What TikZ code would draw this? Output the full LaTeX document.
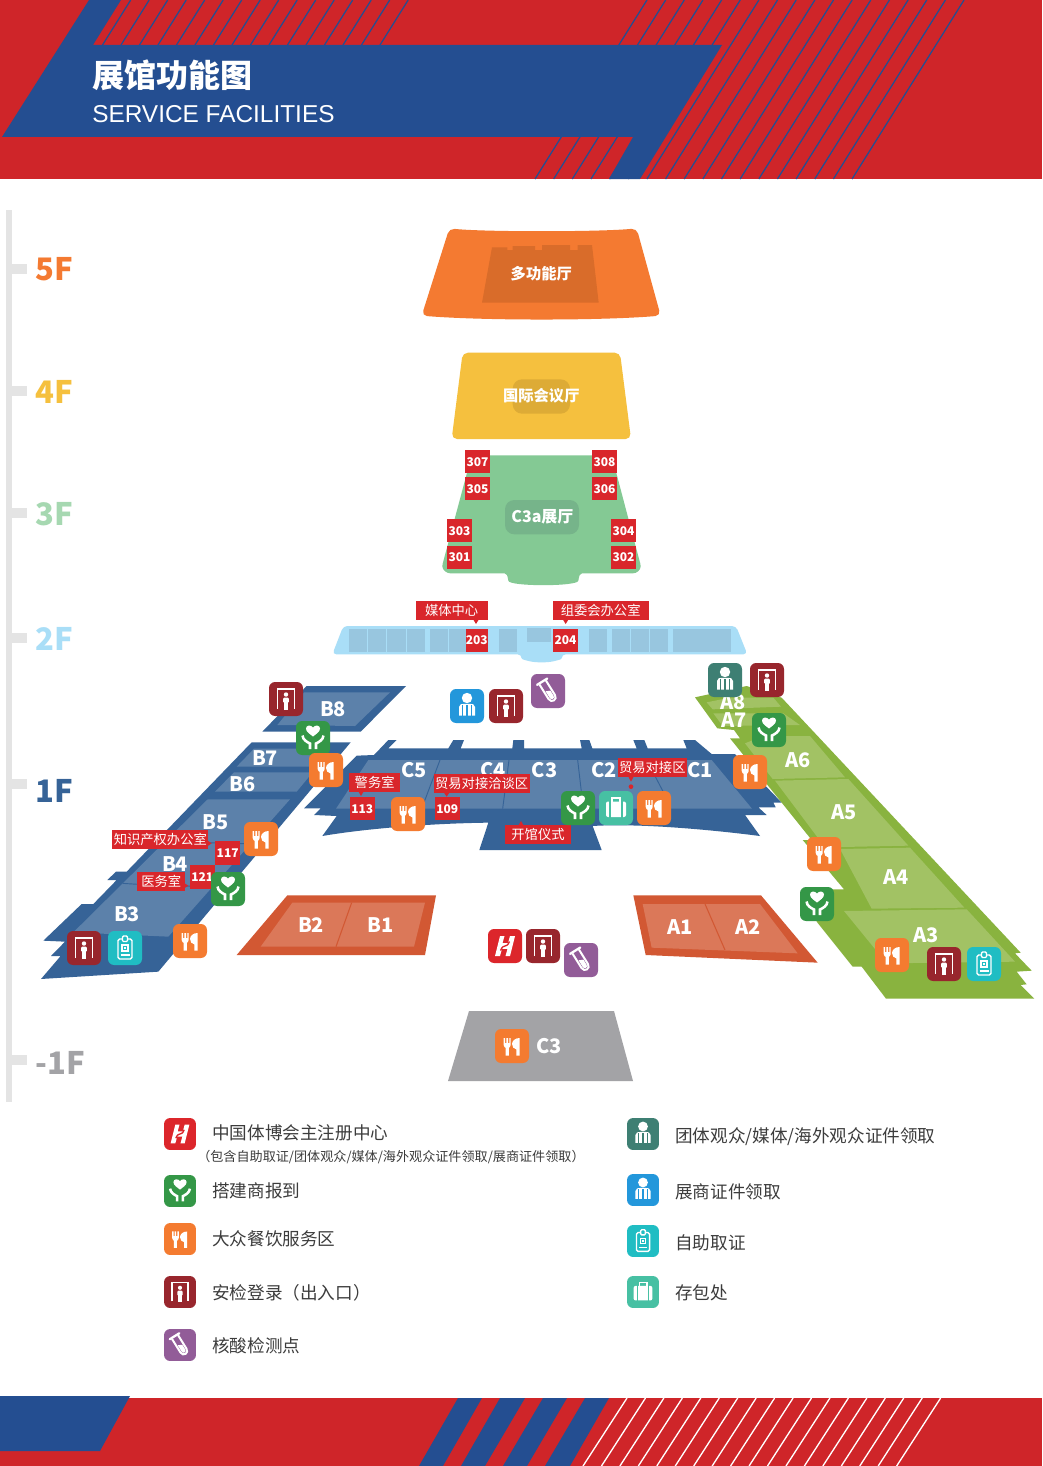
\documentclass[tikz,border=0pt]{standalone}
\usepackage{fontspec}
\setmainfont{Noto Sans CJK SC}
\newfontfamily\arialf{Liberation Sans}
\newcommand\fpx[1]{\fontsize{\fpeval{#1*0.75}}{\fpeval{#1*0.9}}\selectfont}
\definecolor{hred}{HTML}{CF2529}
\definecolor{hblue}{HTML}{244E91}
\definecolor{tagred}{HTML}{D9262B}
\definecolor{fivef}{HTML}{F47A31}
\definecolor{fivein}{HTML}{D96C2A}
\definecolor{fourf}{HTML}{F5C03E}
\definecolor{fourin}{HTML}{DDAB36}
\definecolor{threef}{HTML}{84C994}
\definecolor{threein}{HTML}{76B48A}
\definecolor{threet}{HTML}{A6D8B1}
\definecolor{twof}{HTML}{A9DEF7}
\definecolor{twoin}{HTML}{98C6DF}
\definecolor{onef}{HTML}{366397}
\definecolor{onein}{HTML}{5C81AA}
\definecolor{bof}{HTML}{D25833}
\definecolor{boin}{HTML}{DB7859}
\definecolor{agr}{HTML}{89B33F}
\definecolor{agrin}{HTML}{A2C264}
\definecolor{greyf}{HTML}{A3A3A6}
\definecolor{axisg}{HTML}{E4E4E4}
\definecolor{legt}{HTML}{3C3C3C}
\definecolor{cdoor}{HTML}{98262D}
\definecolor{cfood}{HTML}{F47B30}
\definecolor{cheart}{HTML}{349747}
\definecolor{cgroup}{HTML}{3E7F73}
\definecolor{cblue}{HTML}{2397DB}
\definecolor{ctube}{HTML}{925C98}
\definecolor{cbadge}{HTML}{20BDC3}
\definecolor{cbag}{HTML}{47C0A3}
\definecolor{clogo}{HTML}{DC262B}
\tikzset{
  zonetxt/.style={font=\bfseries\fpx{20},text=white,inner sep=0pt,xshift=0.8pt,yshift=-0.4pt},
  floortxt/.style={font=\bfseries\fpx{31},inner sep=0pt,anchor=west,yshift=-0.9pt},
  hall/.style={font=\bfseries\fpx{15.3},text=white,inner sep=0pt},
  roomno/.style={fill=tagred,text=white,font=\bfseries\fpx{12},inner sep=0pt,minimum width=18.7pt,minimum height=17.5pt},
  tagbox/.style={fill=tagred,text=white,font=\fpx{13.3},inner sep=0pt,minimum height=14.3pt},
  legmain/.style={font=\fpx{17.6},text=legt,inner sep=0pt,anchor=west,yshift=-0.75pt},
  legsub/.style={font=\fpx{13.1},text=legt,inner sep=0pt,anchor=west,yshift=-0.75pt},
  tickbar/.style={fill=axisg,draw=none},
}
\newcommand\base[1]{\fill[rounded corners=4.6pt,#1] (-17,-17) rectangle (17,17);}
\newcommand\iconfood{\base{cfood}
  \fill[white] (-8.3,-8) -- (-6.9,-8) -- (-6.9,-3) -- (-5.6,-3) -- (-5.6,-8) -- (-4.0,-8) -- (-4.0,-3) -- (-2.7,-3) -- (-2.7,-8) -- (-1.3,-8) -- (-1.3,-1) .. controls (-1.3,1) and (-3,1.5) .. (-3.2,1.8) -- (-3.2,9.5) -- (-6.4,9.5) -- (-6.4,1.8) .. controls (-6.8,1.5) and (-8.3,1) .. (-8.3,-1) -- cycle;
  \fill[white] (7.6,-8) .. controls (3,-8) and (0,-5) .. (0,-2) .. controls (0,1) and (2,3) .. (4.4,3.4) -- (4.4,9.5) -- (7.6,9.5) -- cycle;}
\newcommand\iconheart{\base{cheart}
  \fill[white] (0,-1.5) .. controls (-3,-4) and (-7,-6) .. (-7,-9.5) .. controls (-7,-13) and (-2,-13.5) .. (0,-10.5) .. controls (2,-13.5) and (7,-13) .. (7,-9.5) .. controls (7,-6) and (3,-4) .. (0,-1.5) -- cycle;
  \draw[white,line width=1.9pt] (-10.5,-2.5) .. controls (-10,2) and (-6,4) .. (-3,5.5) -- (-3,11);
  \draw[white,line width=1.9pt] (10.5,-2.5) .. controls (10,2) and (6,4) .. (3,5.5) -- (3,11);}
\newcommand\icondoor{\base{cdoor}
  \draw[white,line width=1.1pt] (-8.5,10) -- (-8.5,-10) -- (8.5,-10) -- (8.5,10);
  \fill[white] (0,-4.5) circle (2.2);
  \fill[white,rounded corners=0.8pt] (-2.8,-1.5) rectangle (2.8,4);
  \fill[white] (-1.7,3) rectangle (1.7,10.5);}
\newcommand\iconbadge{\base{cbadge}
  \draw[white,line width=1pt,rounded corners=1.2pt] (-7,-9) rectangle (7,11);
  \draw[white,line width=1pt,fill=cbadge,rounded corners=0.8pt] (-2.5,-12) rectangle (2.5,-6.5);
  \draw[white,line width=0.9pt] (-3,-3) rectangle (3,3);
  \fill[white] (-1.2,-1.2) rectangle (1.2,1.2);
  \draw[white,line width=0.9pt] (-4.5,7) -- (4.5,7);}
\newcommand\iconperson[1]{\base{#1}
  \fill[white] (0,-8) circle (5.2);
  \fill[white] (-8,9.5) -- (-8,1) .. controls (-8,-2) and (-5,-2.2) .. (-3,-2.2) -- (3,-2.2) .. controls (5,-2.2) and (8,-2) .. (8,1) -- (8,9.5) -- cycle;
  \draw[#1,line width=0.6pt] (-4.8,-1) -- (-4.8,10) (4.8,-1) -- (4.8,10);
  \draw[#1,line width=1pt] (0,-1) -- (0,10);}
\newcommand\iconbag{\base{cbag}
  \draw[white,line width=1.1pt] (-4,-5) -- (-4,-10) -- (4,-10) -- (4,-5);
  \fill[white,rounded corners=1.5pt] (-10,-6.5) rectangle (10,9);
  \draw[cbag,line width=0.8pt] (-6,-7) -- (-6,9.5) (6,-7) -- (6,9.5);}
\newcommand\icontube{\base{ctube}
  \begin{scope}[rotate=32,shift={(0,0)}]
  \draw[white,line width=1.7pt,line cap=round] (-6,-11) -- (6,-11);
  \draw[white,line width=1.5pt] (-3.8,-10) -- (-3.8,7) .. controls (-3.8,12.5) and (3.8,12.5) .. (3.8,7) -- (3.8,-10);
  \fill[white] (-2.2,-1) -- (2.2,1) -- (2.2,7) .. controls (2.2,10) and (-2.2,10) .. (-2.2,7) -- cycle;
  \end{scope}}
\newcommand\iconlogo{\base{clogo}
  \fill[white] (-5,-10) -- (-0.5,-10) -- (-2.5,-2.8) -- (3,-2.8) -- (5,-10) -- (10,-10) -- (5,10) -- (0.5,10) -- (2.5,2.8) -- (-3,2.8) -- (-5,10) -- (-10,10) -- cycle;
  \draw[clogo,line width=1pt] (-4.5,4.5) .. controls (-1,-3.5) and (1,3.5) .. (4.5,-4.5);}
\newcommand\icon[4][1]{\begin{scope}[shift={(#2,#3)},scale=#1]#4\end{scope}}
\begin{document}
\begin{tikzpicture}[x=0.75pt,y=-0.75pt]
\useasboundingbox (0,0) rectangle (1042,1466);
\fill[white] (0,0) rectangle (1042,1466);
% ---- header
\fill[hred] (0,0) rectangle (1042,179);
\foreach \k in {0,...,15} {\draw[hblue,line width=0.95pt] ({130.7+18.5*\k},0) -- ({102.5+18.5*\k},45);}
\foreach \k in {0,...,17} {\draw[hblue,line width=0.95pt] ({647+18.65*\k},0) -- ({535+18.65*\k},179);}
\fill[hblue] (89,0) -- (121,0) -- (93,45) -- (722,45) -- (640,179) -- (609,179) -- (633,137) -- (2,137) -- cycle;
\node[inner sep=0pt,anchor=west,text=white,font=\bfseries\fpx{32}] (title) at (92,75) {展馆功能图};
\node[inner sep=0pt,anchor=west,text=white,font=\arialf\fpx{24.4}] (subtitle) at (92,114) {SERVICE FACILITIES};
% ---- footer
\fill[hred] (0,1398) rectangle (1042,1466);
\fill[hblue] (0,1396) -- (130,1396) -- (100,1451) -- (0,1451) -- cycle;
\fill[hblue] (458,1398) -- (482,1398) -- (443,1466) -- (419,1466) -- cycle;
\fill[hblue] (500,1398) -- (525,1398) -- (485,1466) -- (461,1466) -- cycle;
\fill[hblue] (543,1398) -- (567,1398) -- (527,1466) -- (503,1466) -- cycle;
\fill[hblue] (585,1398) -- (609,1398) -- (570,1466) -- (545,1466) -- cycle;
\foreach \k in {0,...,17} {\draw[white,line width=1pt] ({627+18.45*\k},1398) -- ({583+18.45*\k},1466);}
% ---- axis
\fill[axisg] (6,210) rectangle (12,1102);
\foreach \yy in {269,391,513,638,784,1060} {\path[tickbar] (12,\yy-5) rectangle (27,\yy+5);}
\node[floortxt,text=fivef] (f5) at (35,268) {5F};
\node[floortxt,text=fourf] (f4) at (35,391) {4F};
\node[floortxt,text=threet] (f3) at (35,513) {3F};
\node[floortxt,text=twof] (f2) at (35,638) {2F};
\node[floortxt,text=onef] (f1) at (35,790) {1F};
\node[floortxt,text=greyf] (fm1) at (35,1062) {-1F};
% ---- upper floors
\begin{scope}[shift={(410,220)},scale=0.33333]
\fill[fivef,rounded corners=4pt] (118,25) .. controls (220,36) and (570,36) .. (680,25) -- (752,287) .. controls (570,302) and (220,302) .. (35,287) -- cycle;
\fill[fivein] (246,82) -- (292,82) -- (292,90) -- (308,90) -- (308,78) -- (375,78) -- (375,90) -- (396,90) -- (396,75) -- (480,75) -- (480,90) -- (503,90) -- (503,75) -- (546,75) -- (566,248) -- (216,248) -- cycle;
\node[hall] (hall5) at (394,160) {多功能厅};
\fill[fourf,rounded corners=4pt] (158,398) -- (630,398) -- (663,657) -- (125,657) -- cycle;
\fill[fourin,rounded corners=7pt] (308,478) rectangle (480,581);
\node[hall] (hall4) at (394,527) {国际会议厅};
\fill[threef,rounded corners=1pt] (185,706) -- (605,706) -- (672,960) -- (692,1035) .. controls (692,1050) and (680,1060) .. (665,1060) -- (520,1060) .. controls (508,1060) and (508,1070) .. (505,1078) .. controls (505,1100) and (295,1100) .. (295,1078) .. controls (292,1070) and (292,1060) .. (280,1060) -- (125,1060) .. controls (110,1060) and (97,1050) .. (97,1035) -- cycle;
\fill[threein,rounded corners=7pt] (285,840) rectangle (507,943);
\node[hall,font=\bfseries\fpx{16},xshift=0.8pt] (hall3) at (394,890) {C3a展厅};
\node[roomno] (r307) at (202.5,725) {307};
\node[roomno] (r305) at (202.5,806) {305};
\node[roomno] (r308) at (583.5,725) {308};
\node[roomno] (r306) at (583.5,806) {306};
\node[roomno] (r303) at (148.5,932) {303};
\node[roomno] (r301) at (148.5,1012) {301};
\node[roomno] (r304) at (640.5,932) {304};
\node[roomno] (r302) at (640.5,1012) {302};
\end{scope}
% ---- 1F centre and 2F, zoom-3 frame
\begin{scope}[shift={(300,590)},scale=0.33333]
\fill[twof,rounded corners=3pt] (130,108) -- (1308,108) -- (1342,193) -- (785,193) .. controls (785,205) and (782,208) .. (770,212) .. controls (740,218) and (710,218) .. (680,212) .. controls (668,208) and (665,205) .. (665,193) -- (97,193) -- cycle;
\foreach \a/\b in {147/202,205/259,262/317,320/375,390/445,447/503,597/651,867/921,936/990,993/1047,1050/1104,1119/1293} {\fill[twoin] (\a,117) rectangle (\b,186);}
\fill[twoin] (681,113) rectangle (753,156);
\node[roomno,minimum width=13.75pt,minimum height=17.25pt] (r203) at (530.5,151) {203};
\node[roomno,minimum height=17.25pt] (r204) at (796.5,151) {204};
\fill[tagred] (520,89) -- (528,102) -- (536,89) -- cycle;
\fill[tagred] (789,89) -- (797,102) -- (805,89) -- cycle;
\node[tagbox,minimum width=54pt] (tmedia) at (455,61) {媒体中心};
\node[tagbox,minimum width=72pt] (torg) at (902,61) {组委会办公室};
% C hall
\fill[onef] (265,450) -- (290,450) -- (265,475) -- (445,475) -- (460,450) -- (492,450) -- (482,475) -- (637,475) -- (640,450) -- (672,450) -- (672,475) -- (845,475) -- (840,450) -- (868,450) -- (877,475) -- (1010,475) -- (1000,450) -- (1033,450) -- (1043,475) -- (1160,475) -- (1150,450) -- (1185,450) -- (1235,492) -- (1305,492) -- (1445,638) -- (1420,638) -- (1427,652) -- (1375,652) -- (1400,675) -- (1335,675) -- (1380,738) .. controls (1200,715) and (1000,700) .. (878,708) -- (905,780) -- (538,780) -- (565,698) .. controls (400,700) and (200,715) .. (67,738) -- (110,678) -- (42,675) -- (62,655) -- (12,655) -- (170,497) -- (222,495) -- cycle;
\fill[onein] (205,510) -- (1235,510) -- (1356,656) -- (108,656) -- cycle;
\draw[onef,line width=0.7pt] (420,510) -- (365,656) (627,510) -- (608,656) (833,510) -- (850,656) (1040,510) -- (1090,606);
\node[zonetxt] (c5) at (340,540) {C5};
\node[zonetxt] (c4) at (577,540) {C4};
\node[zonetxt] (c3) at (731,540) {C3};
\node[zonetxt] (c2) at (909,540) {C2};
\node[zonetxt] (c1) at (1198,540) {C1};
\fill[tagred] (175,604) -- (183,618) -- (191,604) -- cycle;
\fill[tagred] (432,608) -- (440,620) -- (448,608) -- cycle;
\fill[tagred] (985,560) -- (993,575) -- (1001,560) -- cycle;
\fill[tagred] (655,707) -- (663,693) -- (671,707) -- cycle;
\fill[tagred] (993,590) circle (7);
\node[tagbox,minimum width=38pt] (tpolice) at (224,578) {警务室};
\node[tagbox,minimum width=71.75pt,minimum height=14.5pt] (tnego) at (545,581) {贸易对接洽谈区};
\node[tagbox,minimum width=51.25pt] (ttrade) at (1057,533) {贸易对接区};
\node[tagbox,minimum width=49.5pt] (topen) at (714,733) {开馆仪式};
\node[roomno] (r113) at (187,656) {113};
\node[roomno] (r109) at (442,656) {109};
\end{scope}
% ---- B halls, zoom-2 frame
\begin{scope}[shift={(30,670)},scale=0.33333]
\fill[onef] (830,48) -- (1128,48) -- (992,185) -- (697,185) -- cycle;
\fill[onein] (822,67) -- (1080,67) -- (975,168) -- (742,165) -- cycle;
\node[zonetxt] (b8) at (906,115) {B8};
\fill[onef] (665,217) -- (962,217) -- (385,905) -- (33,927) -- (92,858) -- (63,858) -- (105,815) -- (40,812) -- (155,702) -- (190,702) -- (260,630) -- (232,630) -- (258,605) -- (290,605) -- cycle;
\fill[onein] (672,236) -- (890,236) -- (842,290) -- (620,290) -- cycle;
\fill[onein] (612,307) -- (848,307) -- (800,365) -- (555,365) -- cycle;
\fill[onein] (533,388) -- (780,388) -- (415,800) -- (130,787) -- cycle;
\draw[onef,line width=0.7pt] (402,515) .. controls (480,518) and (570,518) .. (665,522);
\draw[onef,line width=0.7pt] (278,640) .. controls (360,646) and (450,648) .. (548,650);
\node[zonetxt] (b7) at (702,264) {B7};
\node[zonetxt] (b6) at (634,340) {B6};
\node[zonetxt] (b5) at (553,455) {B5};
\node[zonetxt] (b4) at (432,580) {B4};
\node[zonetxt] (b3) at (288,730) {B3};
\fill[bof] (772,676) -- (1218,676) -- (1185,855) -- (620,855) -- cycle;
\fill[boin] (787,698) -- (1185,698) -- (1152,830) -- (692,830) -- cycle;
\draw[bof,line width=0.8pt] (965,698) -- (918,830);
\node[zonetxt] (b2) at (840,765) {B2};
\node[zonetxt] (b1) at (1048,765) {B1};
\fill[tagred] (533,512) -- (545,520) -- (533,528) -- cycle;
\fill[tagred] (464,640) -- (475,647) -- (464,654) -- cycle;
\node[tagbox,minimum width=71.75pt] (tip) at (391,509) {知识产权办公室};
\node[tagbox,minimum width=36pt] (tmed) at (394,634) {医务室};
\node[roomno] (r117) at (593,549) {117};
\node[roomno] (r121) at (517,621) {121};
\end{scope}
% ---- A halls, zoom-4 frame
\begin{scope}[shift={(630,650)},scale=0.33333]
\fill[bof] (10,736) -- (393,736) -- (563,938) -- (47,915) -- cycle;
\fill[boin] (38,762) -- (390,762) -- (503,910) -- (65,893) -- cycle;
\draw[bof,line width=0.8pt] (225,762) -- (285,900);
\node[zonetxt] (a1) at (148,830) {A1};
\node[zonetxt] (a2) at (350,830) {A2};
\fill[agr] (195,142) -- (350,108) -- (455,143) -- (1172,908) -- (1155,910) -- (1205,962) -- (1160,965) -- (1190,1003) -- (1172,1005) -- (1213,1046) -- (768,1046) -- (695,950) -- (668,950) -- (560,815) -- (560,718) -- (642,718) -- (535,590) -- (518,570) -- (545,570) -- (300,265) -- (330,265) -- (312,240) -- (262,235) -- cycle;
\fill[agrin] (230,157) -- (300,143) -- (430,143) -- (453,170) -- (248,178) -- cycle;
\fill[agrin] (250,190) -- (460,190) -- (510,225) -- (278,228) -- cycle;
\fill[agrin] (345,280) -- (400,258) -- (540,258) -- (645,382) -- (428,387) -- cycle;
\fill[agrin] (435,392) -- (655,387) -- (835,587) -- (585,592) -- cycle;
\fill[agrin] (630,597) -- (840,593) -- (1003,773) -- (725,776) -- cycle;
\fill[agrin] (642,783) -- (1010,778) -- (1155,935) -- (770,940) -- cycle;
\node[zonetxt] (a8) at (305,155) {A8};
\node[zonetxt] (a7) at (310,210) {A7};
\node[zonetxt] (a6) at (500,330) {A6};
\node[zonetxt] (a5) at (638,485) {A5};
\node[zonetxt] (a4) at (795,680) {A4};
\node[zonetxt] (a3) at (885,853) {A3};
\end{scope}
% ---- -1F
\fill[greyf] (469,1011) -- (614,1011) -- (633,1081) -- (448,1081) -- cycle;
\node[zonetxt] (cb3) at (548,1046) {C3};
% ---- icons on the plan
\icon{286}{699}{\icondoor}
\icon{313}{738}{\iconheart}
\icon{326}{770}{\iconfood}
\icon{408}{814}{\iconfood}
\icon{467}{706}{\iconperson{cblue}}
\icon{506}{706}{\icondoor}
\icon{548}{691}{\icontube}
\icon{578}{808}{\iconheart}
\icon{616}{808}{\iconbag}
\icon{654}{808}{\iconfood}
\icon{725}{680}{\iconperson{cgroup}}
\icon{767}{680}{\icondoor}
\icon{769}{730}{\iconheart}
\icon{750}{772}{\iconfood}
\icon{824}{854}{\iconfood}
\icon{817}{904}{\iconheart}
\icon{892}{955}{\iconfood}
\icon{944}{964}{\icondoor}
\icon{984}{964}{\iconbadge}
\icon{261}{839}{\iconfood}
\icon{228}{889}{\iconheart}
\icon{84}{948}{\icondoor}
\icon{125}{948}{\iconbadge}
\icon{190}{941}{\iconfood}
\icon{505}{946}{\iconlogo}
\icon{543}{946}{\icondoor}
\icon{581}{960}{\icontube}
\icon{512}{1046}{\iconfood}
% ---- legend
\icon[0.94]{180}{1134}{\iconlogo}
\icon[0.94]{180}{1191}{\iconheart}
\icon[0.94]{180}{1239}{\iconfood}
\icon[0.94]{180}{1292}{\icondoor}
\icon[0.94]{180}{1345}{\icontube}
\icon[0.94]{643}{1134}{\iconperson{cgroup}}
\icon[0.94]{643}{1190}{\iconperson{cblue}}
\icon[0.94]{643}{1241}{\iconbadge}
\icon[0.94]{643}{1292}{\iconbag}
\node[legmain] (l1) at (212,1132) {中国体博会主注册中心};
\node[legsub] (l1b) at (197,1156) {（包含自助取证/团体观众/媒体/海外观众证件领取/展商证件领取）};
\node[legmain] (l2) at (212,1190) {搭建商报到};
\node[legmain] (l3) at (212,1238) {大众餐饮服务区};
\node[legmain] (l4) at (212,1292) {安检登录（出入口）};
\node[legmain] (l5) at (212,1345) {核酸检测点};
\node[legmain] (r1) at (675,1136) {团体观众/媒体/海外观众证件领取};
\node[legmain] (r2) at (675,1191) {展商证件领取};
\node[legmain] (r3) at (675,1242) {自助取证};
\node[legmain] (r4) at (675,1292) {存包处};
\end{tikzpicture}
\end{document}
